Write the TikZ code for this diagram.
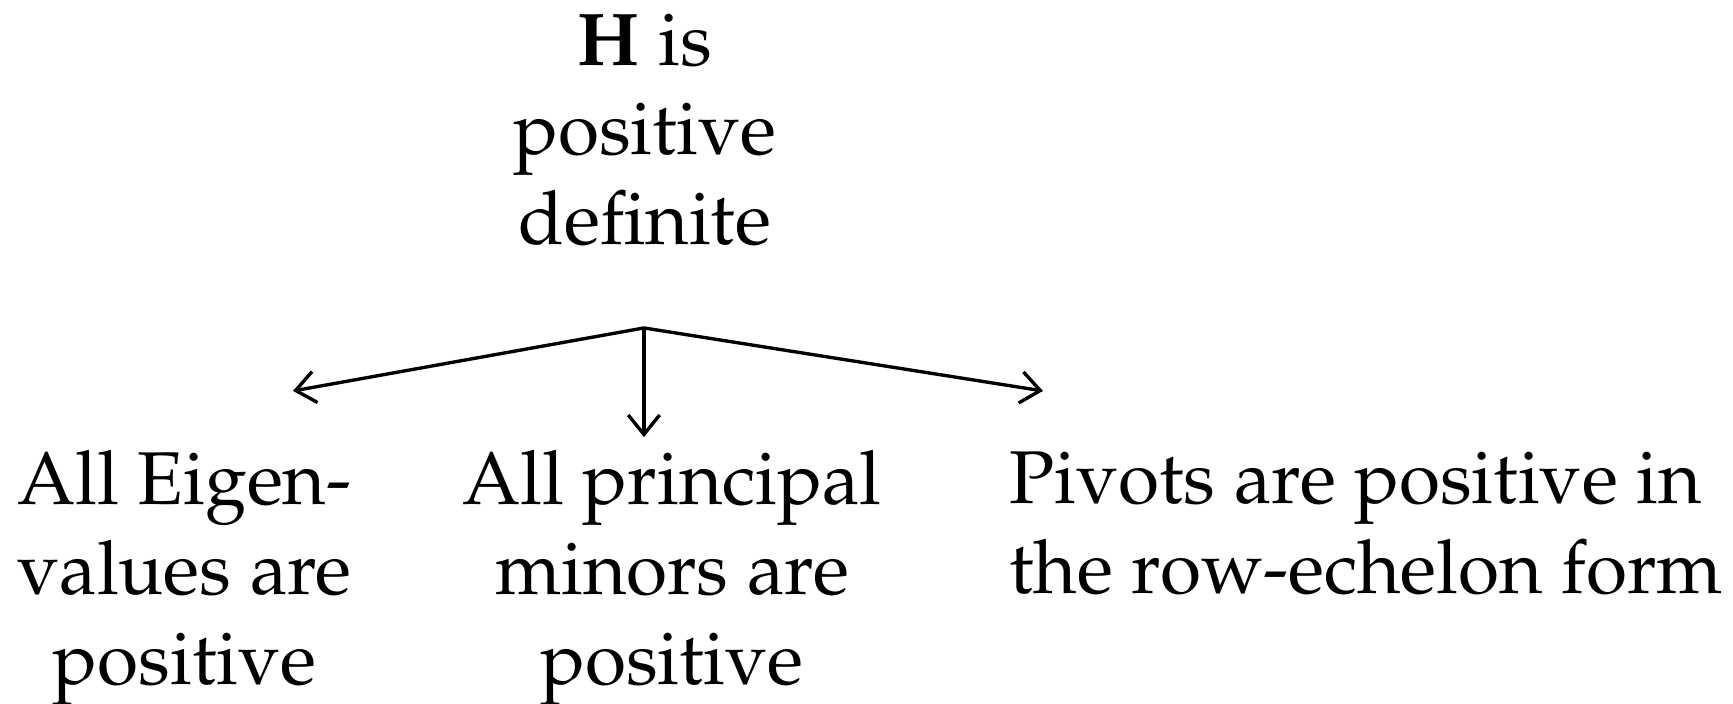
\documentclass[tikz,border=0pt]{standalone}
\IfFileExists{mathpazo.sty}
  {\usepackage[T1]{fontenc}\usepackage{mathpazo}\newcommand\txtsize{\fontsize{10}{12}\selectfont}}
  {\usepackage{fontspec}\setmainfont{Liberation Serif}\newcommand\txtsize{\fontsize{10.9}{12}\selectfont}}
\usetikzlibrary{arrows.meta,positioning}
\colorlet{myink}{black}

\begin{document}
\begin{tikzpicture}[
  txt/.style ={font=\txtsize, text=myink, inner sep=0pt, align=center},
  branch/.style={draw=myink, line width=0.45pt, -{Straight Barb[length=2.6pt,width=4.2pt]}},
]
\useasboundingbox (0,0) rectangle (8.144,-3.304);

% ==================================================== the claim
\node[txt, anchor=north] (hpd) at (3.031,-0.055) {\textbf{H} is\\positive\\definite};

% the three arrows leave from one point under the claim
\coordinate (split) at (3.026,-1.541);
\coordinate (eigtip) at (1.377,-1.837);
\coordinate (mintip) at (3.026,-2.054);
\coordinate (pivtip) at (4.901,-1.837);

% ==================================================== the equivalent tests
\node[txt, anchor=north] (eig) at (0.867,-2.110) {All Eigen-\\values are\\positive};
\node[txt, anchor=north] (minors) at (3.158,-2.110) {All principal\\minors are\\positive};
\node[txt, anchor=north west, align=left] (pivots) at (4.737,-2.115)
  {Pivots are positive in\\the row-echelon form};

\draw[branch] (split) -- (eigtip);
\draw[branch] (split) -- (mintip);
\draw[branch] (split) -- (pivtip);

\end{tikzpicture}
\end{document}
